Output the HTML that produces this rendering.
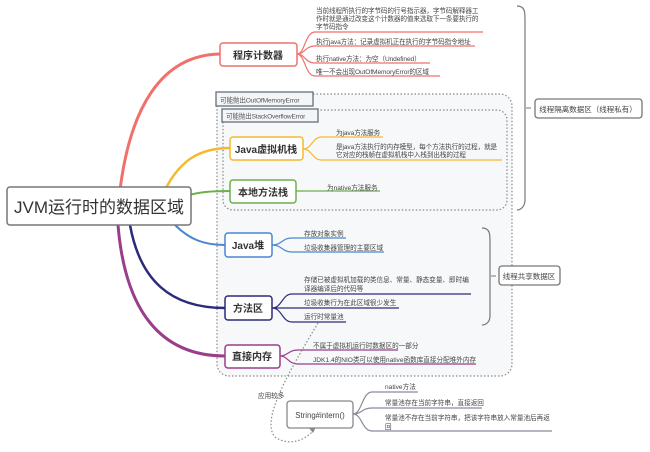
<!DOCTYPE html>
<html><head><meta charset="utf-8"><style>
body{margin:0;background:#fff;}
svg text{font-family:"Liberation Sans","Noto Sans CJK SC",sans-serif;}
</style></head><body>
<svg width="650" height="447" viewBox="0 0 650 447" xmlns="http://www.w3.org/2000/svg">
<rect x="217" y="94" width="295" height="282" rx="12" fill="#f7f8fa" stroke="#888" stroke-width="1.2" stroke-dasharray="1.5,2"/>
<rect x="223" y="110" width="284" height="100" rx="10" fill="#f7f8fa" stroke="#888" stroke-width="1.2" stroke-dasharray="1.5,2"/>
<rect x="216" y="92" width="97" height="14" fill="#f3f5f8" stroke="#66707a" stroke-width="1.3"/>
<text x="220" y="102.5" font-size="6.6" fill="#555" letter-spacing="-0.15">可能抛出OutOfMemoryError</text>
<rect x="222" y="109" width="96" height="13" fill="#f3f5f8" stroke="#66707a" stroke-width="1.3"/>
<text x="226" y="118.5" font-size="6.6" fill="#555" letter-spacing="-0.2">可能抛出StackOverflowError</text>

<g fill="none" stroke-width="3">
<path d="M120,190 C130,110 160,55 220,54" stroke="#f0706a"/>
<path d="M165,190 C180,160 200,148 230,148" stroke="#f5b82e" stroke-width="2.5"/>
<path d="M185,196 C200,192 210,191 230,191" stroke="#6ab04c" stroke-width="2"/>
<path d="M175,225 C190,240 205,245 225,245" stroke="#4a86d0" stroke-width="2"/>
<path d="M130,225 C140,280 170,308 225,308" stroke="#2c2a7a" stroke-width="2.5"/>
<path d="M118,225 C125,310 160,356 225,356" stroke="#9a3d8a" stroke-width="3"/>
</g>
<rect x="7" y="187" width="184" height="38" rx="3" fill="#fff" stroke="#777" stroke-width="1.5"/>
<text x="99" y="213" font-size="17" text-anchor="middle" fill="#333">JVM运行时的数据区域</text>

<g fill="none" stroke="#f0706a" stroke-width="1.2">
<path d="M297,54 C305,54 305,32 315,32 L483,32"/>
<path d="M297,54 C305,54 305,46 315,46 L475,46"/>
<path d="M297,54 C305,54 305,63 315,63 L430,63"/>
<path d="M297,54 C305,54 305,76 315,76 L440,76"/>
</g>
<rect x="220" y="43" width="77" height="23" rx="3" fill="#fff" stroke="#f0706a" stroke-width="1.5"/>
<text x="258" y="59" font-size="10" text-anchor="middle" fill="#333" font-weight="bold">程序计数器</text>
<g font-size="6.6" fill="#444" letter-spacing="-0.1">
<text x="316" y="13">当前线程所执行的字节码的行号指示器，字节码解释器工</text>
<text x="316" y="21">作时就是通过改变这个计数器的值来选取下一条要执行的</text>
<text x="316" y="29">字节码指令</text>
<text x="316" y="44">执行java方法：记录虚拟机正在执行的字节码指令地址</text>
<text x="316" y="61">执行native方法：为空（Undefined）</text>
<text x="316" y="74">唯一不会出现OutOfMemoryError的区域</text>
</g>

<g fill="none" stroke="#f5b82e" stroke-width="1.2">
<path d="M303,149 C312,149 312,137 322,137 L383,137"/>
<path d="M303,149 C312,149 312,160 322,160 L502,160"/>
</g>
<rect x="230" y="137" width="73" height="23" rx="3" fill="#fff" stroke="#f5b82e" stroke-width="1.5"/>
<text x="266" y="153" font-size="10" text-anchor="middle" fill="#333" font-weight="bold">Java虚拟机栈</text>
<g font-size="6.6" fill="#444" letter-spacing="-0.1">
<text x="336" y="135">为java方法服务</text>
<text x="336" y="149">是java方法执行的内存模型，每个方法执行的过程，就是</text>
<text x="336" y="157">它对应的栈帧在虚拟机栈中入栈到出栈的过程</text>
</g>

<path d="M296,191 L380,191" stroke="#6ab04c" stroke-width="1.2" fill="none"/>
<rect x="230" y="180" width="66" height="23" rx="3" fill="#fff" stroke="#6ab04c" stroke-width="1.5"/>
<text x="263" y="196" font-size="10" text-anchor="middle" fill="#333" font-weight="bold">本地方法栈</text>
<text x="327" y="190" font-size="6.6" fill="#444">为native方法服务</text>

<g fill="none" stroke="#4a86d0" stroke-width="1.2">
<path d="M272,245 C282,245 282,238 292,238 L346,238"/>
<path d="M272,245 C282,245 282,252 292,252 L384,252"/>
</g>
<rect x="225" y="233" width="47" height="24" rx="3" fill="#fff" stroke="#4a86d0" stroke-width="1.5"/>
<text x="248" y="249" font-size="10" text-anchor="middle" fill="#333" font-weight="bold">Java堆</text>
<g font-size="6.6" fill="#444">
<text x="304" y="236">存放对象实例</text>
<text x="304" y="250">垃圾收集器管理的主要区域</text>
</g>

<g fill="none" stroke="#2c2a7a" stroke-width="1.2">
<path d="M272,308 C282,308 282,294 292,294 L471,294"/>
<path d="M272,308 C282,308 282,308 292,308 L399,308"/>
<path d="M272,308 C282,308 282,322 292,322 L346,322"/>
</g>
<rect x="225" y="296" width="47" height="24" rx="3" fill="#fff" stroke="#2c2a7a" stroke-width="1.5"/>
<text x="248" y="312" font-size="10" text-anchor="middle" fill="#333" font-weight="bold">方法区</text>
<g font-size="6.6" fill="#444">
<text x="304" y="282">存储已被虚拟机加载的类信息、常量、静态变量、即时编</text>
<text x="304" y="291">译器编译后的代码等</text>
<text x="304" y="305">垃圾收集行为在此区域很少发生</text>
<text x="304" y="319">运行时常量池</text>
</g>

<g fill="none" stroke="#9a3d8a" stroke-width="1.2">
<path d="M280,356 C288,356 288,350 298,350 L398,350"/>
<path d="M280,356 C288,356 288,364 298,364 L476,364"/>
</g>
<rect x="225" y="345" width="55" height="23" rx="3" fill="#fff" stroke="#9a3d8a" stroke-width="1.5"/>
<text x="252" y="360" font-size="10" text-anchor="middle" fill="#333" font-weight="bold">直接内存</text>
<g font-size="6.6" fill="#444">
<text x="313" y="348">不属于虚拟机运行时数据区的一部分</text>
<text x="313" y="362">JDK1.4的NIO类可以使用native函数库直接分配堆外内存</text>
</g>

<path d="M318,323 C290,370 260,420 275,437 C290,447 305,440 314,430" fill="none" stroke="#888" stroke-width="1.2" stroke-dasharray="1.5,2"/>
<path d="M317,425 L313,433 L309,428 Z" fill="#888"/>
<text x="258" y="398" font-size="6.6" fill="#444">应用较多</text>

<g fill="none" stroke="#8a8a9a" stroke-width="1.2">
<path d="M353,414 C362,414 362,392 372,392 L418,392"/>
<path d="M353,414 C362,414 362,408 372,408 L482,408"/>
<path d="M353,414 C362,414 362,431 372,431 L552,431"/>
</g>
<rect x="287" y="401" width="66" height="27" rx="3" fill="#fff" stroke="#888" stroke-width="1.3"/>
<text x="320" y="418" font-size="7.8" text-anchor="middle" fill="#444">String#intern()</text>
<g font-size="6.6" fill="#444">
<text x="385" y="389">native方法</text>
<text x="385" y="405">常量池存在当前字符串，直接返回</text>
<text x="385" y="420">常量池不存在当前字符串，把该字符串放入常量池后再返</text>
<text x="385" y="429">回</text>
</g>

<path d="M517,6 C525,6 525,12 525,20 L525,200 C525,206 521,210 517,210" fill="none" stroke="#777" stroke-width="1.2"/>
<path d="M526,108 L531,108" stroke="#777"/>
<rect x="535" y="99" width="107" height="19" rx="3" fill="#fff" stroke="#777" stroke-width="1.3"/>
<text x="588" y="112" font-size="7.5" text-anchor="middle" fill="#444">线程隔离数据区（线程私有）</text>

<path d="M482,228 C490,228 490,234 490,242 L490,316 C490,322 486,325 482,325" fill="none" stroke="#777" stroke-width="1.2"/>
<path d="M491,276 L496,276" stroke="#777"/>
<rect x="499" y="266" width="61" height="19" rx="3" fill="#fff" stroke="#777" stroke-width="1.3"/>
<text x="529" y="279" font-size="7.5" text-anchor="middle" fill="#444">线程共享数据区</text>
</svg>
</body></html>
